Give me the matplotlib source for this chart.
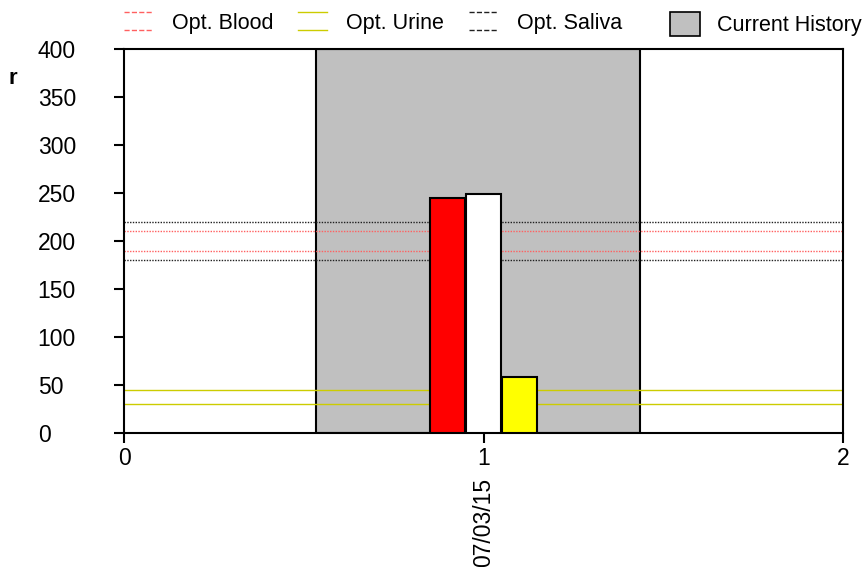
import numpy as np
import matplotlib.pyplot as plt
from matplotlib.legend_handler import HandlerBase
from matplotlib.lines import Line2D
from matplotlib.patches import Patch

plt.rcParams['font.family'] = ['Liberation Sans', 'DejaVu Sans']

# data
bar_pos = [0.9, 1.0, 1.1]
bar_vals = [245, 249, 58]
bar_colors = ['#ff0000', '#ffffff', '#ffff00']
history_span = (0.535, 1.435)
opt_blood = [190, 210]
opt_urine = [30, 45]
opt_saliva = [180, 220]
date_label = '07/03/15'
xticks = [0, 1, 2]
yticks = [0, 50, 100, 150, 200, 250, 300, 350, 400]


class DoubleLine(HandlerBase):
    # two horizontal lines above and below the text centre
    def create_artists(self, legend, orig_handle, xdescent, ydescent,
                       width, height, fontsize, trans):
        mid = height / 2 - ydescent
        off = 0.43 * fontsize
        out = []
        for y in (mid - off, mid + off):
            ln = Line2D([-xdescent, width - xdescent], [y, y],
                        color=orig_handle.get_color(),
                        linestyle=orig_handle.get_linestyle(),
                        linewidth=orig_handle.get_linewidth(), transform=trans)
            out.append(ln)
        return out


fig = plt.figure(figsize=(8.65, 5.67), dpi=100)
ax = fig.add_axes([0.1434, 0.2363, 0.8312, 0.6773])

ax.axvspan(*history_span, facecolor='#c0c0c0', edgecolor='black', linewidth=1.5, zorder=1)

blood_style = dict(color='#ff6060', linestyle=(0, (1, 1)), linewidth=1.0)
urine_style = dict(color='#cccc00', linestyle='-', linewidth=1.0)
saliva_style = dict(color='#202020', linestyle=(0, (1, 1)), linewidth=1.0)
for v in opt_blood:
    ax.axhline(v, zorder=2, **blood_style)
for v in opt_urine:
    ax.axhline(v, zorder=2, **urine_style)
for v in opt_saliva:
    ax.axhline(v, zorder=2, **saliva_style)

ax.bar(bar_pos, bar_vals, width=0.098, color=bar_colors, edgecolor='black',
       linewidth=1.5, zorder=3)

ax.set_xlim(0, 2)
ax.set_ylim(0, 400)
ax.set_xticks(xticks)
ax.set_yticks(yticks)
for s in ax.spines.values():
    s.set_linewidth(1.5)
ax.tick_params(axis='both', direction='out', length=7.2, width=1.5, labelsize=16.5)
ax.tick_params(axis='y', pad=55)
for lab in ax.get_yticklabels():
    lab.set_horizontalalignment('left')
ax.tick_params(axis='x', pad=3)

ax.annotate(date_label, xy=(1, 0), xycoords=('data', 'axes fraction'),
            xytext=(0, -32), textcoords='offset points', rotation=90,
            ha='center', va='top', fontsize=16.5)

fig.text(9 / 865, 1 - 79 / 567, 'r', fontsize=16, fontweight='bold',
         ha='left', va='center')

line_handles = [Line2D([], [], **blood_style), Line2D([], [], **urine_style),
                Line2D([], [], **saliva_style)]
line_labels = ['Opt. Blood', 'Opt. Urine', 'Opt. Saliva']
leg1 = fig.legend(line_handles, line_labels, ncol=3, loc='center left',
                  bbox_to_anchor=(124 / 865, 1 - 23 / 567), frameon=False,
                  fontsize=15.5, handler_map={Line2D: DoubleLine()},
                  handlelength=1.35, handletextpad=0.88, columnspacing=1.15,
                  borderpad=0, borderaxespad=0)

fig.legend([Patch(facecolor='#c0c0c0', edgecolor='black', linewidth=1.2)],
           ['Current History'], loc='center left',
           bbox_to_anchor=(670 / 865, 1 - 24 / 567), frameon=False,
           fontsize=15.5, handlelength=1.38, handleheight=1.35,
           handletextpad=0.8, borderpad=0, borderaxespad=0)

fig.savefig('out.png', dpi=100)
